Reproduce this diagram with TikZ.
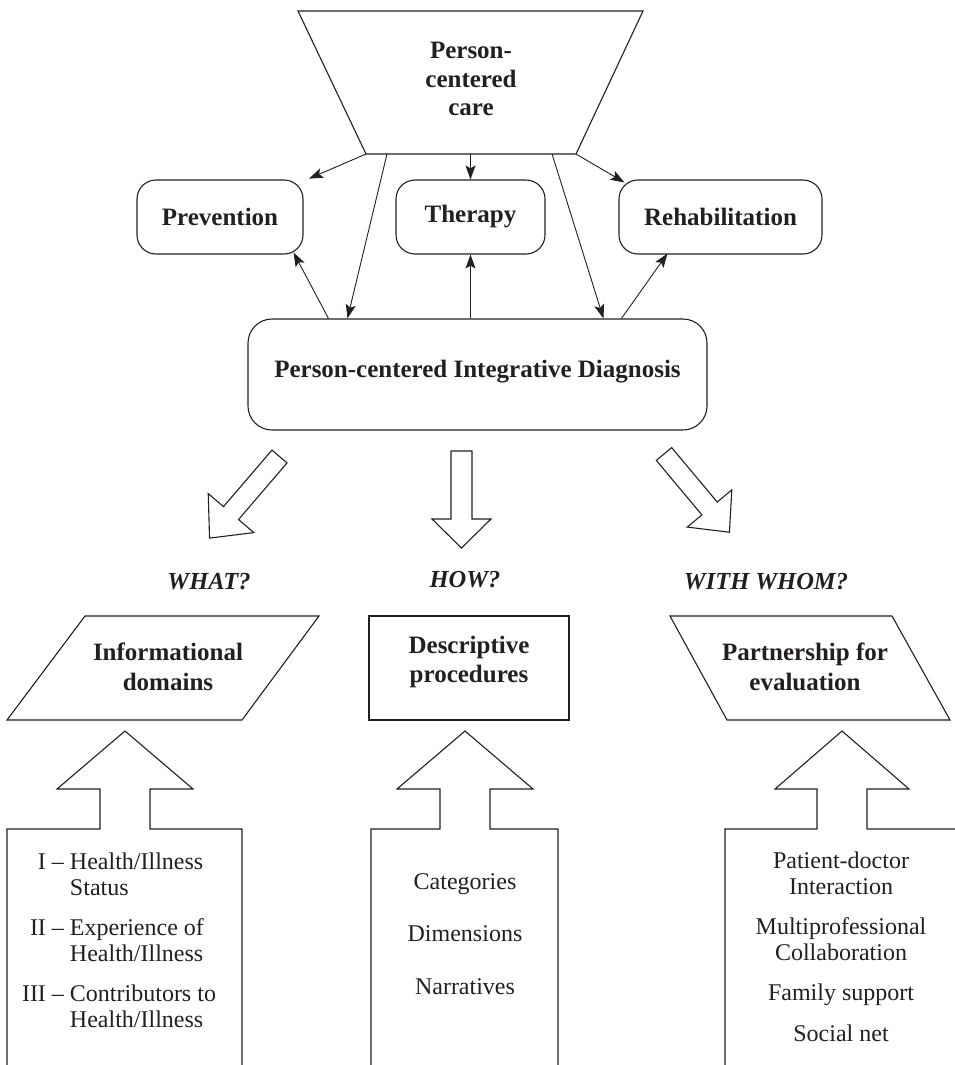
\documentclass[tikz,border=0pt]{standalone}
\usepackage{fontspec}
\setmainfont{Liberation Serif}
\usetikzlibrary{arrows.meta,calc}
\definecolor{ink}{HTML}{231F20}
\tikzset{
  >={Stealth[length=14pt,width=10pt,inset=3pt]},
  shp/.style={draw=ink, line width=1.1pt, line join=miter},
  rbox/.style={draw=ink, line width=1.1pt, rounded corners=19pt, inner sep=0pt, text=ink, font=\bfseries\fontsize{25}{28.5}\selectfont},
  btxt/.style={text=ink, inner sep=0pt, align=center, font=\bfseries\fontsize{25}{29.5}\selectfont},
  rtxt/.style={text=ink, inner sep=0pt, align=center, font=\fontsize{24}{26}\selectfont},
  qtxt/.style={text=ink, inner sep=0pt, font=\bfseries\itshape\fontsize{24.5}{28}\selectfont},
  conn/.style={draw=ink, line width=0.9pt, ->},
}
\begin{document}
\begin{tikzpicture}[x=1pt,y=-1pt]
\useasboundingbox (0,0) rectangle (955,1065);

% top trapezoid
\draw[shp] (298,11) coordinate (tTL) -- (643,11) coordinate (tTR) -- (576,154) coordinate (tBR) -- (366,154) coordinate (tBL) -- cycle;
\node[btxt, font=\bfseries\fontsize{25}{28.5}\selectfont] (pcc) at (471,79) {Person-\\centered\\care};

% second row boxes
\node[rbox, minimum width=166pt, minimum height=74pt] (prev) at (220,217) {Prevention};
\node[rbox, minimum width=149pt, minimum height=74pt] (ther) at (470.5,217) {Therapy};
\node[rbox, minimum width=203pt, minimum height=74pt] (rehab) at (720.5,217) {Rehabilitation};
\node[rbox, rounded corners=24pt, minimum width=459pt, minimum height=111pt, text height=18pt, text depth=13pt] (diag) at (477.5,374.5) {Person-centered Integrative Diagnosis};

% connectors
\draw[conn, shorten >=6pt] (tBL) -- (prev);
\draw[conn] ($(tBL)!0.1!(tBR)$) -- ([xshift=100pt]diag.north west);
\draw[conn] (ther.north |- tBL) -- (ther.north);
\draw[conn] ($(tBL)!0.886!(tBR)$) -- ([xshift=356pt]diag.north west);
\draw[conn] (tBR) -- ([xshift=6pt,yshift=-3pt]rehab.north west);
\draw[conn] ([xshift=81pt]diag.north west) -- ([xshift=-10pt,yshift=2pt]prev.south east);
\draw[conn] (ther.south |- diag.north) -- (ther.south);
\draw[conn] ([xshift=374pt]diag.north west) -- ([xshift=49pt,yshift=1pt]rehab.south west);

% block arrows from diagnosis
\begin{scope}[shift={(279.5,456.5)}, rotate=229.4]
  \draw[shp] (0,9.9) -- (74.5,9.9) -- (74.5,30) -- (107.5,0) -- (74.5,-30) -- (74.5,-9.9) -- (0,-9.9) -- cycle;
\end{scope}
\begin{scope}[shift={(461.5,451)}, rotate=-90]
  \draw[shp] (0,10.5) -- (68,10.5) -- (68,29.5) -- (97,0) -- (68,-29.5) -- (68,-10.5) -- (0,-10.5) -- cycle;
\end{scope}
\begin{scope}[shift={(664,454)}, rotate=-50.1]
  \draw[shp] (0,10) -- (71,10) -- (71,29) -- (102,0) -- (71,-29) -- (71,-10) -- (0,-10) -- cycle;
\end{scope}

% questions
\node[qtxt] (what) at (209,582) {WHAT?};
\node[qtxt] (how) at (465,580) {HOW?};
\node[qtxt] (whom) at (766,582) {WITH WHOM?};

% third row shapes
\draw[shp] (7,720) -- (242,720) -- (319,616) -- (85,616) -- cycle;
\node[btxt] (info) at (168,667) {Informational\\domains};
\draw[shp] (369,616) rectangle (569,720);
\node[btxt] (desc) at (469,662) {Descriptive\\procedures};
\draw[shp] (670,616) -- (892,616) -- (950,720) -- (727,720) -- cycle;
\node[btxt] (part) at (805,667) {Partnership for\\evaluation};

% bottom arrow-boxes
\draw[shp] (7,1065) -- (7,829) -- (100,829) -- (100,789) -- (57,789) -- (125,731) -- (193,789) -- (150,789) -- (150,829) -- (242,829) -- (242,1065);
\draw[shp] (371,1065) -- (371,829) -- (440,829) -- (440,789) -- (397,789) -- (465,731) -- (533,789) -- (490,789) -- (490,829) -- (558,829) -- (558,1065);
\draw[shp] (725,1065) -- (725,829) -- (817,829) -- (817,789) -- (775,789) -- (842,731) -- (909,789) -- (867,789) -- (867,829) -- (962,829);

% bottom texts
\node[rtxt] (dom) at (119,943) {\begin{tabular}{@{}r@{\ }l@{}}I –&Health/Illness\\&Status\\[14pt]II –&Experience of\\&Health/Illness\\[14pt]III –&Contributors to\\&Health/Illness\end{tabular}};
\node[rtxt, font=\fontsize{24}{52.5}\selectfont] (cat) at (465,934) {Categories\\Dimensions\\Narratives};
\node[rtxt] (plist) at (841,950) {\begin{tabular}{@{}c@{}}Patient-doctor\\Interaction\\[14pt]Multiprofessional\\Collaboration\\[14pt]Family support\\[15pt]Social net\end{tabular}};
\end{tikzpicture}
\end{document}
